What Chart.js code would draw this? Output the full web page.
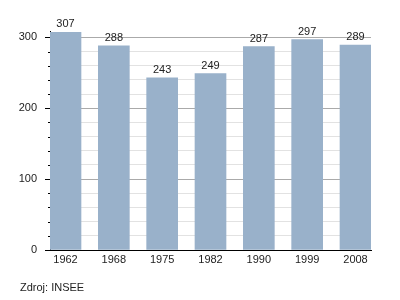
<!DOCTYPE html>
<html lang="cs">
<head>
    <meta charset="UTF-8">
    <title>Vývoj počtu obyvatel</title>
    <script src="https://cdn.jsdelivr.net/npm/chart.js"></script>
    <style>
        html, body {
            margin: 0;
            padding: 0;
            background: #fff;
        }
        .wrap {
            position: relative;
            width: 400px;
            height: 300px;
        }
        #source {
            position: absolute;
            left: 20px;
            top: 281px;
            font-family: "Liberation Sans", Arial, sans-serif;
            font-size: 11px;
            color: #222;
        }
    </style>
</head>
<body>
    <div class="wrap">
        <canvas id="popChart" width="400" height="300"></canvas>
        <div id="source">Zdroj: INSEE</div>
    </div>

    <script>
        // data
        const years = ['1962', '1968', '1975', '1982', '1990', '1999', '2008'];
        const population = [307, 288, 243, 249, 287, 297, 289];
        const yTicks = [0, 20, 40, 60, 80, 100, 120, 140, 160, 180, 200, 220, 240, 260, 280, 300];

        const FONT = '"Liberation Sans", Arial, sans-serif';

        // popisky hodnot nad sloupci + malé značky na ose y
        const extras = {
            id: 'extras',
            afterDatasetsDraw(chart) {
                const ctx = chart.ctx;
                const meta = chart.getDatasetMeta(0);
                ctx.save();
                ctx.font = '11px ' + FONT;
                ctx.fillStyle = '#222';
                ctx.textAlign = 'center';
                ctx.textBaseline = 'alphabetic';
                meta.data.forEach((bar, i) => {
                    ctx.fillText(String(population[i]), bar.x, bar.y - 5);
                });

                const yScale = chart.scales.y;
                const left = chart.chartArea.left;
                ctx.strokeStyle = '#000';
                ctx.lineWidth = 1;
                yTicks.forEach(v => {
                    const y = Math.round(yScale.getPixelForValue(v)) + 0.5;
                    const len = v % 100 === 0 ? 5 : 2;
                    ctx.beginPath();
                    ctx.moveTo(left - len, y);
                    ctx.lineTo(left, y);
                    ctx.stroke();
                });
                ctx.restore();
            }
        };

        new Chart(document.getElementById('popChart'), {
            type: 'bar',
            data: {
                datasets: [{
                    data: population.map((v, i) => ({ x: i, y: v })),
                    backgroundColor: '#99b1ca',
                    borderWidth: 0,
                    barThickness: 31
                }]
            },
            options: {
                responsive: false,
                animation: false,
                layout: {
                    padding: { left: 0, right: 29, top: 31, bottom: 0 }
                },
                plugins: {
                    legend: { display: false },
                    tooltip: { enabled: false }
                },
                scales: {
                    x: {
                        type: 'linear',
                        offset: false,
                        min: -0.3207,
                        max: 6.3207,
                        afterBuildTicks: s => { s.ticks = years.map((y, i) => ({ value: i })); },
                        afterFit: s => { s.height = 50; },
                        grid: { display: false, drawTicks: false },
                        border: { color: '#000', width: 1 },
                        ticks: {
                            autoSkip: false,
                            padding: 3,
                            color: '#222',
                            font: { family: FONT, size: 11 },
                            callback: v => years[v],
                            maxRotation: 0
                        }
                    },
                    y: {
                        min: 0,
                        max: 309,
                        afterBuildTicks: s => { s.ticks = yTicks.map(v => ({ value: v })); },
                        afterFit: s => { s.width = 50; },
                        grid: {
                            drawTicks: false,
                            color: c => c.tick.value % 100 === 0 ? '#aaaaaa' : '#e2e2e2'
                        },
                        border: { color: '#000', width: 1 },
                        ticks: {
                            autoSkip: false,
                            padding: 13,
                            color: '#222',
                            font: { family: FONT, size: 11 },
                            callback: v => v % 100 === 0 ? String(v) : ''
                        }
                    }
                }
            },
            plugins: [extras]
        });
    </script>
</body>
</html>
